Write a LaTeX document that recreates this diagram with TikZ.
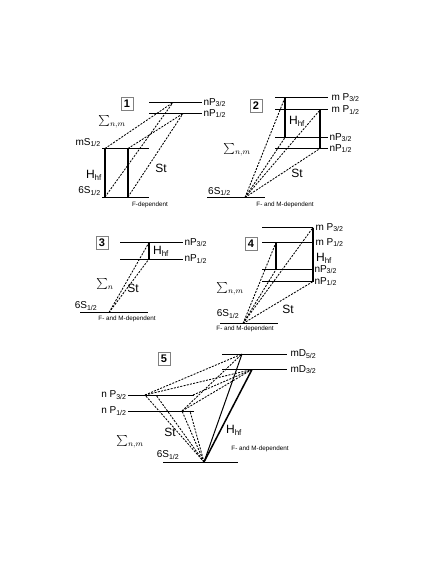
\documentclass[tikz,border=0pt]{standalone}
\usepackage{fontspec}
\setmainfont{Liberation Sans}
\usepackage{amsmath}
\newcommand{\lsub}[1]{\textsubscript{#1}}
\tikzset{
  level/.style={line width=1pt},
  hfline/.style={line width=1.5pt},
  trans/.style={line width=0.85pt, dash pattern=on 2pt off 1.3pt},
  lbl/.style={anchor=west, inner sep=1pt, font=\fontsize{10}{11}\selectfont},
  lblleft/.style={lbl, anchor=east},
  numbox/.style={draw=gray, line width=0.6pt, inner sep=0pt, minimum width=12pt, minimum height=13pt, font=\bfseries\fontsize{11}{12}\selectfont},
  biglbl/.style={inner sep=0pt, font=\fontsize{12}{13}\selectfont},
  sumlbl/.style={inner sep=0pt, font=\fontsize{11}{12}\selectfont},
  depend/.style={inner sep=0pt, font=\fontsize{6.3}{7}\selectfont},
}

\begin{document}
\begin{tikzpicture}[x=1pt,y=-1pt]
\useasboundingbox (0,0) rectangle (436,564);

% 1
\node[numbox] (box1) at (127,104) {1};
\draw[level] (149,102.5) -- (202,102.5) node[lbl] (one-np3) {nP\lsub{3/2}};
\draw[level] (149,113.5) -- (202,113.5) node[lbl] (one-np1) {nP\lsub{1/2}};
\draw[level] (102,148.5) -- (149,148.5);
\draw[level] (102,197) -- (149,197);
\coordinate (one-ms-l) at (105,148.5);
\coordinate (one-ms-r) at (128,148.5);
\coordinate (one-s-l) at (105,197);
\coordinate (one-s-r) at (128,197);
\coordinate (one-p3) at (173,102.5);
\coordinate (one-p1) at (183,113.5);
\draw[hfline] (one-ms-l) -- (one-s-l);
\draw[hfline] (one-ms-r) -- (one-s-r);
\draw[trans] (one-ms-l) -- (one-p3);
\draw[trans] (one-s-l) -- (one-p3);
\draw[trans] (one-ms-r) -- (one-p1);
\draw[trans] (one-s-r) -- (one-p1);
\node[lbl, anchor=south east] (one-ms) at (102,148) {mS\lsub{1/2}};
\node[lbl, anchor=south east] (one-s) at (102,196.5) {6S\lsub{1/2}};
\node[biglbl] (one-hf) at (94,175) {H\lsub{hf}};
\node[sumlbl] (one-sum) at (112,122) {$\sum_{n,m}$};
\node[biglbl] (one-st) at (161,168) {St};
\node[depend] (one-dep) at (150,205) {F-dependent};

% 2
\node[numbox] (box2) at (256,106) {2};
\draw[level] (275,97.5) -- (328,97.5) node[lbl, xshift=2pt] (two-mp3) {m P\lsub{3/2}};
\draw[level] (275,110) -- (328,110) node[lbl, xshift=2pt] (two-mp1) {m P\lsub{1/2}};
\draw[level] (275,137.5) -- (328,137.5) node[lbl] (two-np3) {nP\lsub{3/2}};
\draw[level] (275,148.5) -- (328,148.5) node[lbl] (two-np1) {nP\lsub{1/2}};
\draw[level] (207,197.5) -- (265,197.5);
\coordinate (two-s) at (245,197.5);
\coordinate (two-a) at (285,97.5);
\coordinate (two-b) at (320,110);
\coordinate (two-c) at (285,137.5);
\coordinate (two-d) at (320,148.5);
\draw[hfline] (two-a) -- (two-c);
\draw[hfline] (two-b) -- (two-d);
\draw[trans] (two-s) -- (two-a);
\draw[trans] (two-s) -- (two-b);
\draw[trans] (two-s) -- (two-c);
\draw[trans] (two-s) -- (two-d);
\node[lbl, anchor=south west] (two-6s) at (207,197) {6S\lsub{1/2}};
\node[biglbl] (two-hf) at (297,121) {H\lsub{hf}};
\node[sumlbl] (two-sum) at (237,150) {$\sum_{n,m}$};
\node[biglbl] (two-st) at (297,173) {St};
\node[depend] (two-dep) at (285,205) {F- and M-dependent};

% 3
\node[numbox] (box3) at (102,243) {3};
\draw[level] (120,242.5) -- (183,242.5) node[lbl] (three-np3) {nP\lsub{3/2}};
\draw[level] (120,259) -- (183,259) node[lbl] (three-np1) {nP\lsub{1/2}};
\draw[level] (80,312.5) -- (148,312.5);
\coordinate (three-s) at (109,312.5);
\coordinate (three-a) at (149,242.5);
\coordinate (three-b) at (149,259);
\draw[hfline] (three-a) -- (three-b);
\draw[trans] (three-s) -- (three-a);
\draw[trans] (three-s) -- (three-b);
\node[lbl, anchor=center] (three-6s) at (86,306) {6S\lsub{1/2}};
\node[biglbl] (three-hf) at (161,251) {H\lsub{hf}};
\node[sumlbl] (three-sum) at (105,284) {$\sum_{n}$};
\node[biglbl] (three-st) at (133,288) {St};
\node[depend] (three-dep) at (127,319) {F- and M-dependent};

% 4
\node[numbox] (box4) at (251,244) {4};
\draw[level] (262,227.5) -- (313,227.5) node[lbl, xshift=1pt] (four-mp3) {m P\lsub{3/2}};
\draw[level] (262,242.5) -- (313,242.5) node[lbl, xshift=1pt] (four-mp1) {m P\lsub{1/2}};
\draw[level] (262,269.5) -- (313,269.5) node[lbl] (four-np3) {nP\lsub{3/2}};
\draw[level] (262,281.5) -- (313,281.5) node[lbl] (four-np1) {nP\lsub{1/2}};
\draw[level] (220,323.5) -- (278,323.5);
\coordinate (four-s) at (243,323.5);
\coordinate (four-a) at (276,242.5);
\coordinate (four-b) at (313,227.5);
\coordinate (four-c) at (276,269.5);
\coordinate (four-d) at (313,281.5);
\draw[hfline] (four-a) -- (four-c);
\draw[hfline] (four-b) -- (four-d);
\draw[trans] (four-s) -- (four-a);
\draw[trans] (four-s) -- (four-b);
\draw[trans] (four-s) -- (four-c);
\draw[trans] (four-s) -- (four-d);
\node[lbl, anchor=center] (four-6s) at (228,314) {6S\lsub{1/2}};
\node[biglbl] (four-hf) at (324,258) {H\lsub{hf}};
\node[sumlbl] (four-sum) at (230,289) {$\sum_{n,m}$};
\node[biglbl] (four-st) at (288,309) {St};
\node[depend] (four-dep) at (245,329) {F- and M-dependent};

% 5
\node[numbox] (box5) at (164,359) {5};
\draw[level] (222,354) -- (287,354) node[lbl, xshift=2pt] (five-d5) {mD\lsub{5/2}};
\draw[level] (222,369.5) -- (287,369.5) node[lbl, xshift=2pt] (five-d3) {mD\lsub{3/2}};
\draw[level] (194,395) -- (128,395) node[lblleft] (five-np3) {n P\lsub{3/2}};
\draw[level] (194,411) -- (128,411) node[lblleft] (five-np1) {n P\lsub{1/2}};
\draw[level] (163,462) -- (238,462);
\coordinate (five-s) at (204,462);
\coordinate (five-a) at (242,354);
\coordinate (five-b) at (252,369.5);
\coordinate (five-p3a) at (145,395);
\coordinate (five-p3b) at (156,395);
\coordinate (five-p3c) at (193,395);
\coordinate (five-p1a) at (182,411);
\coordinate (five-p1b) at (190,411);
\draw[trans] (five-p3a) -- (five-a);
\draw[trans] (five-p3a) -- (five-b);
\draw[trans] (five-p1a) -- (five-a);
\draw[trans] (five-p1a) -- (five-b);
\draw[trans] (five-p3c) -- (five-b);
\draw[trans] (five-s) -- (five-p3a);
\draw[trans] (five-s) -- (five-p3b);
\draw[trans] (five-s) -- (five-p1a);
\draw[trans] (five-s) -- (five-p1b);
\draw[line width=1pt] (five-s) -- (five-a);
\draw[hfline] (five-s) -- (five-b);
\node[lbl, anchor=center] (five-6s) at (168,455) {6S\lsub{1/2}};
\node[biglbl] (five-hf) at (234,430) {H\lsub{hf}};
\node[sumlbl] (five-sum) at (130,442) {$\sum_{n,m}$};
\node[biglbl] (five-st) at (170,432) {St};
\node[depend] (five-dep) at (260,449) {F- and M-dependent};
\end{tikzpicture}
\end{document}
